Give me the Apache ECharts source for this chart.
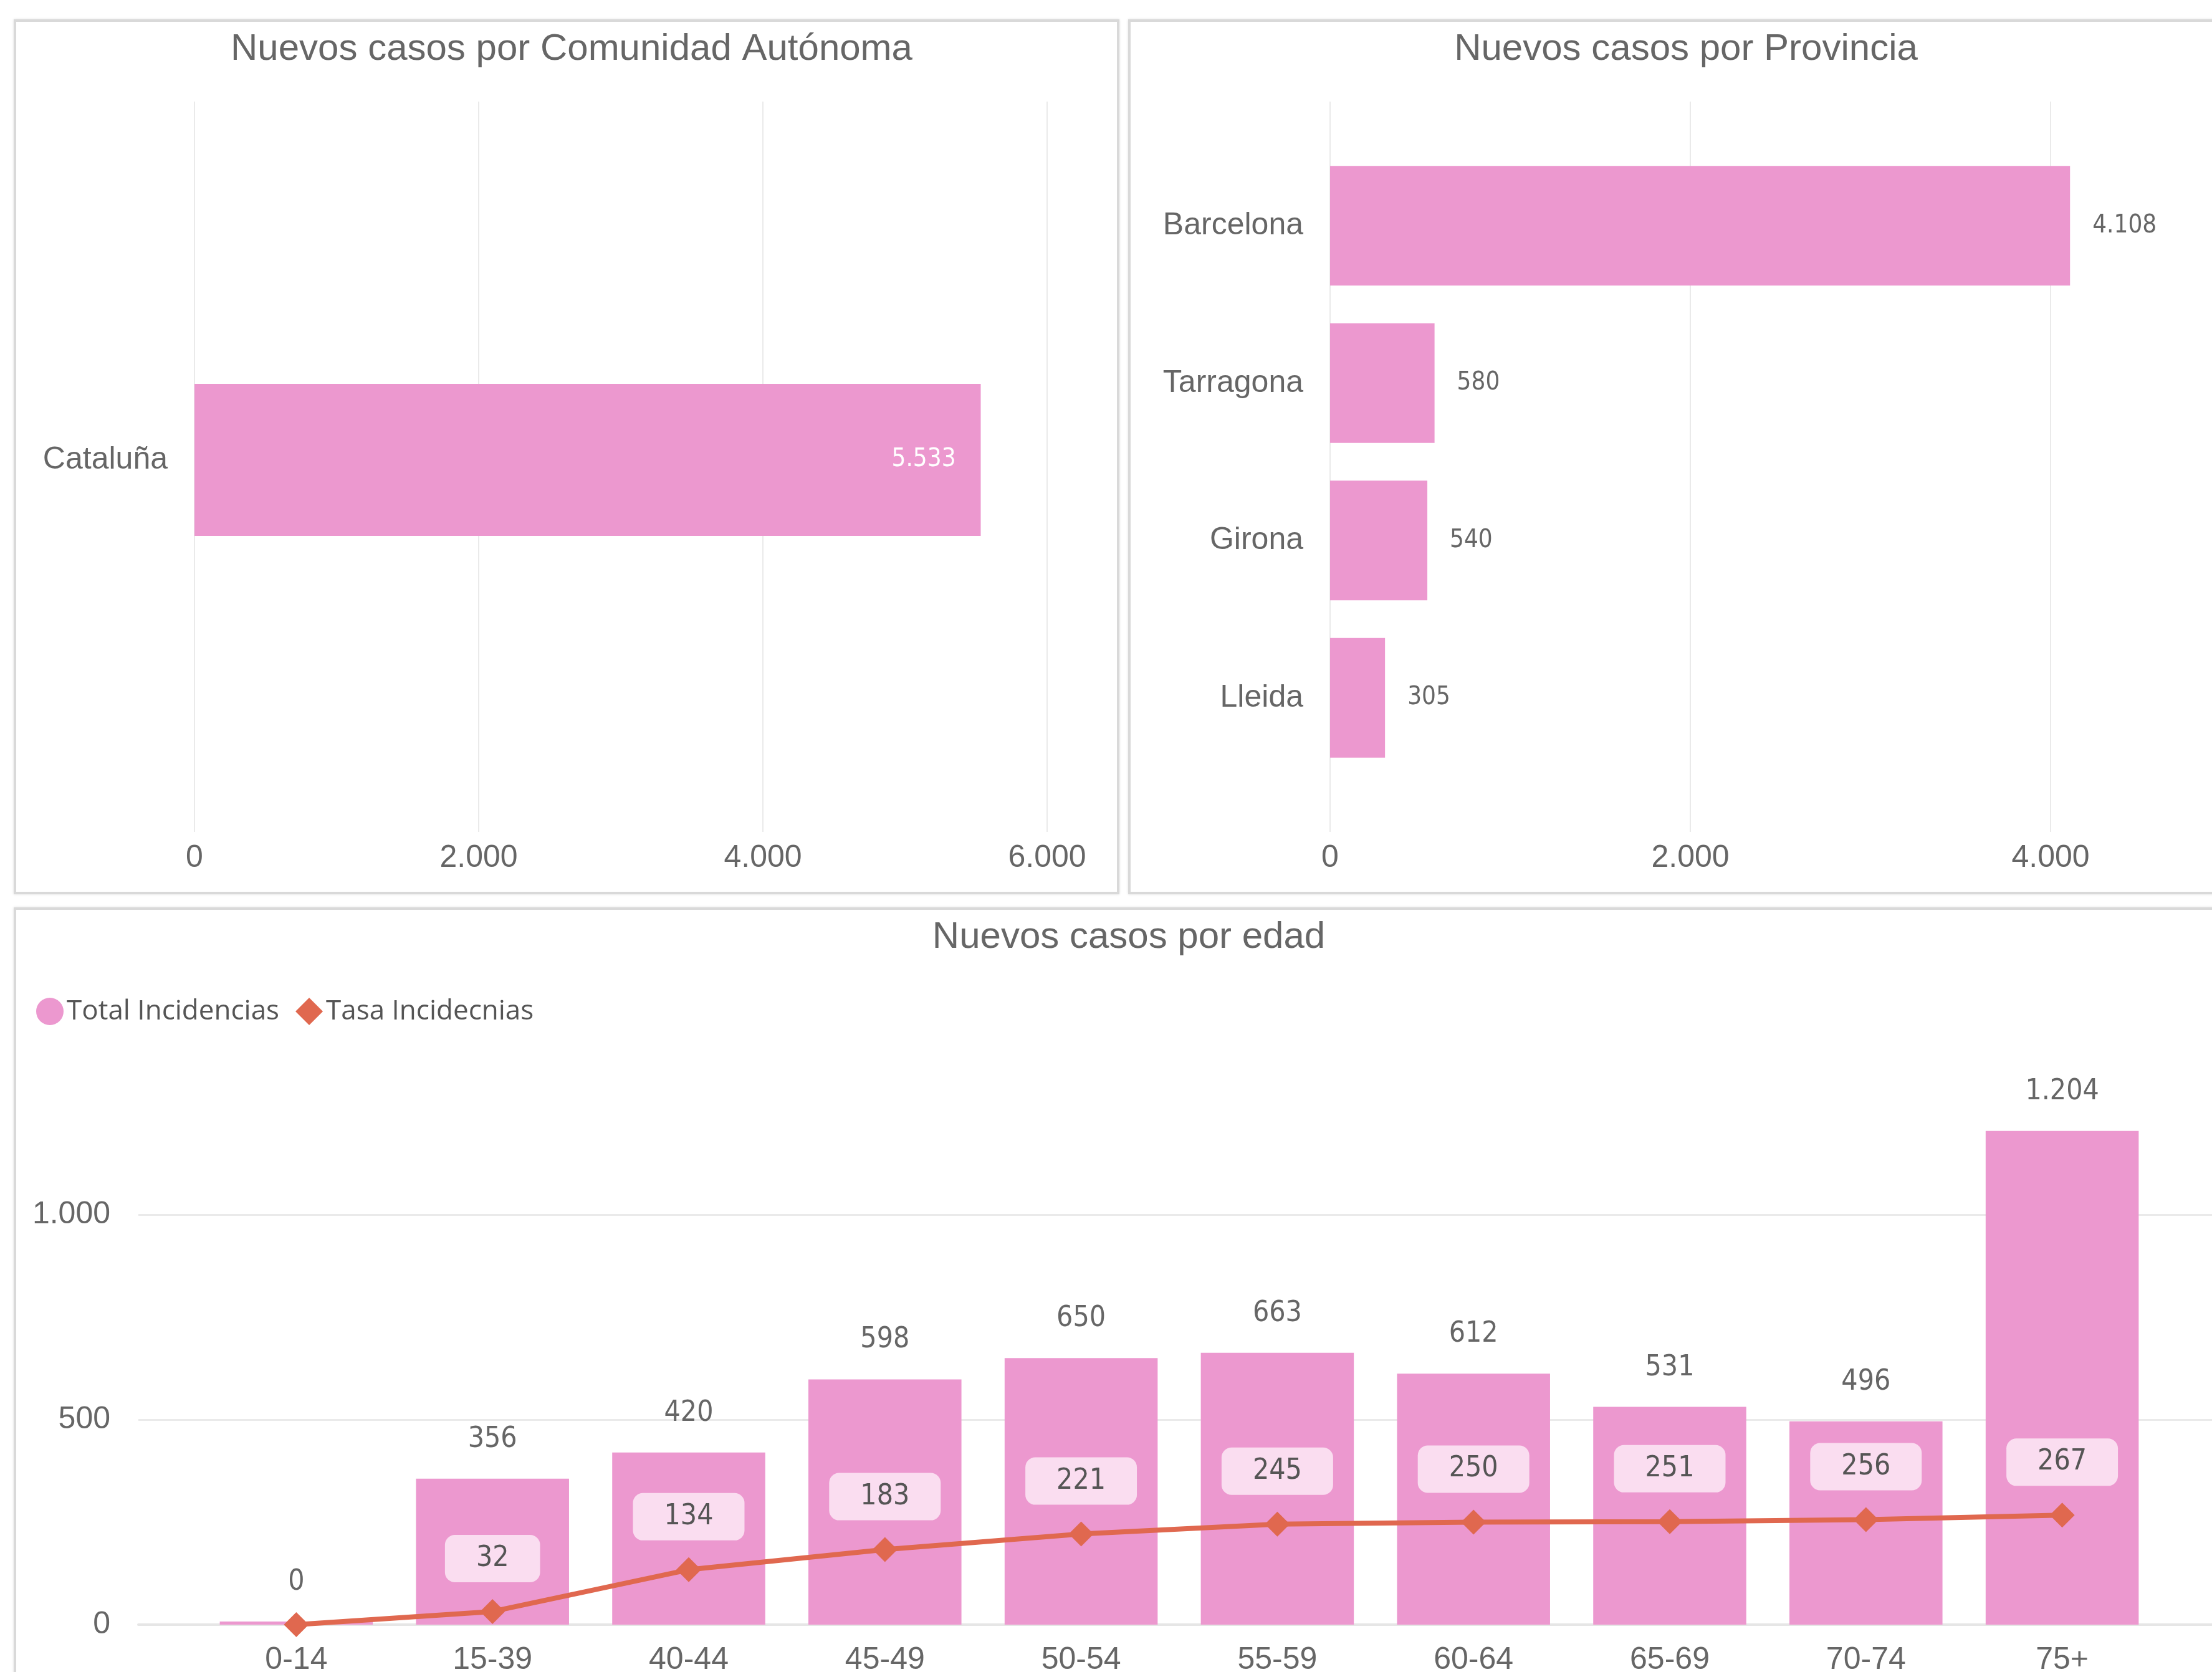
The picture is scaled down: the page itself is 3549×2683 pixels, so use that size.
<!DOCTYPE html>
<html>
<head>
<meta charset="utf-8">
<script src="https://cdn.jsdelivr.net/npm/echarts@6/dist/echarts.min.js"></script>
<style>
  html, body { margin: 0; padding: 0; background: #ffffff; overflow: hidden; }
  #wrap { position: relative; width: 3549px; height: 2683px; }
  .panel { position: absolute; background: #fff; border: 4px solid #d9d9d9; box-shadow: 0 0 4px rgba(0,0,0,0.12); box-sizing: border-box; }
  #chart { position: absolute; left: 0; top: 0; width: 3549px; height: 2683px; }
</style>
</head>
<body>
<div id="wrap">
  <div class="panel" style="left:22px; top:31px; width:1774px; height:1404px;"></div>
  <div class="panel" style="left:1810px; top:31px; width:1800px; height:1404px;"></div>
  <div class="panel" style="left:22px; top:1456px; width:3600px; height:1300px;"></div>
  <div id="chart"></div>
</div>
<script>
// ---- data ----
const regions = ['Cataluña'];
const regionCases = [5533];
const provinces = ['Barcelona', 'Tarragona', 'Girona', 'Lleida'];
const provinceCases = [4108, 580, 540, 305];
const ageGroups = ['0-14', '15-39', '40-44', '45-49', '50-54', '55-59', '60-64', '65-69', '70-74', '75+'];
const totalIncidences = [0, 356, 420, 598, 650, 663, 612, 531, 496, 1204];
const incidenceRate = [0, 32, 134, 183, 221, 245, 250, 251, 256, 267];
const seriesNames = ['Total Incidencias', 'Tasa Incidecnias'];
const titles = ['Nuevos casos por Comunidad Autónoma', 'Nuevos casos por Provincia', 'Nuevos casos por edad'];

// ---- styles ----
const PINK = '#EC98CF';
const ORANGE = '#E0684F';
const TXT = '#666666';
const GRID = '#EAEAEA';
const AXISFONT = "'Liberation Sans', Arial, sans-serif";
const LABELFONT = "'DejaVu Sans Condensed', 'Liberation Sans Narrow', 'Roboto', sans-serif";
const fmt = v => String(v).replace(/\B(?=(\d{3})+(?!\d))/g, '.');

const W = 3549;
const chart = echarts.init(document.getElementById('chart'), null, { renderer: 'canvas', width: 3549, height: 2683 });

const rateData = incidenceRate.map(v => v === 0 ? { value: v, label: { show: false } } : v);

const option = {
  backgroundColor: 'transparent',
  animation: false,
  title: [
    { text: titles[0], left: 912, top: 44, textAlign: 'center', textStyle: { fontSize: 60, fontWeight: 'normal', color: TXT, fontFamily: AXISFONT } },
    { text: titles[1], left: 2700, top: 44, textAlign: 'center', textStyle: { fontSize: 60, fontWeight: 'normal', color: TXT, fontFamily: AXISFONT } },
    { text: titles[2], left: 1806, top: 1469, textAlign: 'center', textStyle: { fontSize: 60, fontWeight: 'normal', color: TXT, fontFamily: AXISFONT } }
  ],
  legend: {
    left: 53, top: 1596,
    itemWidth: 44, itemHeight: 44, itemGap: 26,
    textStyle: { fontSize: 44, color: '#555', fontFamily: "'Open Sans', sans-serif" },
    data: [ { name: seriesNames[0], icon: 'circle' }, { name: seriesNames[1], icon: 'diamond' } ]
  },
  grid: [
    { left: 312, right: W - 1680, top: 163, height: 1172, outerBoundsMode: 'none' },   // 0 TL background
    { left: 312, right: W - 1680, top: 163, height: 1150, outerBoundsMode: 'none' },   // 1 TL bars
    { left: 2134, right: W - 3868, top: 163, height: 1172, outerBoundsMode: 'none' },  // 2 TR background
    { left: 2134, right: W - 3868, top: 236, height: 1010, outerBoundsMode: 'none' },  // 3 TR bars
    { left: 222, right: -60, top: 1949, height: 658, outerBoundsMode: 'none' },        // 4 bottom background
    { left: 318, right: W - 3466, top: 1620, height: 987, outerBoundsMode: 'none' }    // 5 bottom bars
  ],
  xAxis: [
    { gridIndex: 0, type: 'value', min: 0, max: 6000, interval: 2000,
      axisLine: { show: false }, axisTick: { show: false },
      splitLine: { lineStyle: { color: GRID, width: 2 } },
      axisLabel: { fontSize: 50, color: TXT, fontFamily: AXISFONT, margin: 17, formatter: fmt } },
    { gridIndex: 1, type: 'value', min: 0, max: 6000, show: false },
    { gridIndex: 2, type: 'value', min: 0, max: 6000, interval: 2000,
      axisLine: { show: false }, axisTick: { show: false },
      splitLine: { lineStyle: { color: GRID, width: 2 } },
      axisLabel: { fontSize: 50, color: TXT, fontFamily: AXISFONT, margin: 17, formatter: fmt } },
    { gridIndex: 3, type: 'value', min: 0, max: 6000, show: false },
    { gridIndex: 4, type: 'value', min: 0, max: 1,
      axisLine: { show: true, lineStyle: { color: '#E6E6E6', width: 4 } },
      axisTick: { show: false }, axisLabel: { show: false }, splitLine: { show: false } },
    { gridIndex: 5, type: 'category', data: ageGroups,
      axisLine: { show: false }, axisTick: { show: false },
      axisLabel: { fontSize: 50, color: TXT, fontFamily: AXISFONT, margin: 32 } }
  ],
  yAxis: [
    { gridIndex: 0, type: 'category', data: regions, show: false },
    { gridIndex: 1, type: 'category', data: regions,
      axisLine: { show: false }, axisTick: { show: false },
      axisLabel: { fontSize: 50, color: TXT, fontFamily: AXISFONT, margin: 43 } },
    { gridIndex: 2, type: 'category', data: provinces, show: false },
    { gridIndex: 3, type: 'category', data: provinces, inverse: true,
      axisLine: { show: false }, axisTick: { show: false },
      axisLabel: { fontSize: 50, color: TXT, fontFamily: AXISFONT, margin: 43 } },
    { gridIndex: 4, type: 'value', min: 0, max: 1000, interval: 500,
      axisLine: { show: false }, axisTick: { show: false },
      splitLine: { lineStyle: { color: GRID, width: 3 } },
      axisLabel: { fontSize: 50, color: TXT, fontFamily: AXISFONT, margin: 45, formatter: fmt } },
    { gridIndex: 5, type: 'value', min: 0, max: 1500, show: false }
  ],
  series: [
    { type: 'bar', xAxisIndex: 1, yAxisIndex: 1, data: regionCases, barWidth: 244,
      itemStyle: { color: PINK },
      label: { show: true, position: 'insideRight', distance: 40, color: '#ffffff', fontSize: 40, fontFamily: LABELFONT, formatter: p => fmt(p.value) } },
    { type: 'bar', xAxisIndex: 3, yAxisIndex: 3, data: provinceCases, barWidth: 192,
      itemStyle: { color: PINK },
      label: { show: true, position: 'right', distance: 36, color: TXT, fontSize: 40, fontFamily: LABELFONT, formatter: p => fmt(p.value) } },
    { name: seriesNames[0], type: 'bar', xAxisIndex: 5, yAxisIndex: 5, data: totalIncidences,
      barCategoryGap: '22%', barMinHeight: 5, z: 2,
      itemStyle: { color: PINK },
      label: { show: true, position: 'top', distance: 40, color: TXT, fontSize: 46, fontFamily: LABELFONT, formatter: p => fmt(p.value) } },
    { name: seriesNames[1], type: 'line', xAxisIndex: 5, yAxisIndex: 5, data: rateData,
      symbol: 'diamond', symbolSize: 40, z: 3,
      lineStyle: { color: ORANGE, width: 8 },
      itemStyle: { color: ORANGE },
      label: { show: true, position: 'top', distance: 27, color: '#555', fontSize: 46, fontFamily: LABELFONT,
               backgroundColor: '#FADDF0', borderRadius: 16, padding: [15, 50], formatter: p => fmt(p.value) } }
  ]
};
chart.setOption(option);
</script>
</body>
</html>
